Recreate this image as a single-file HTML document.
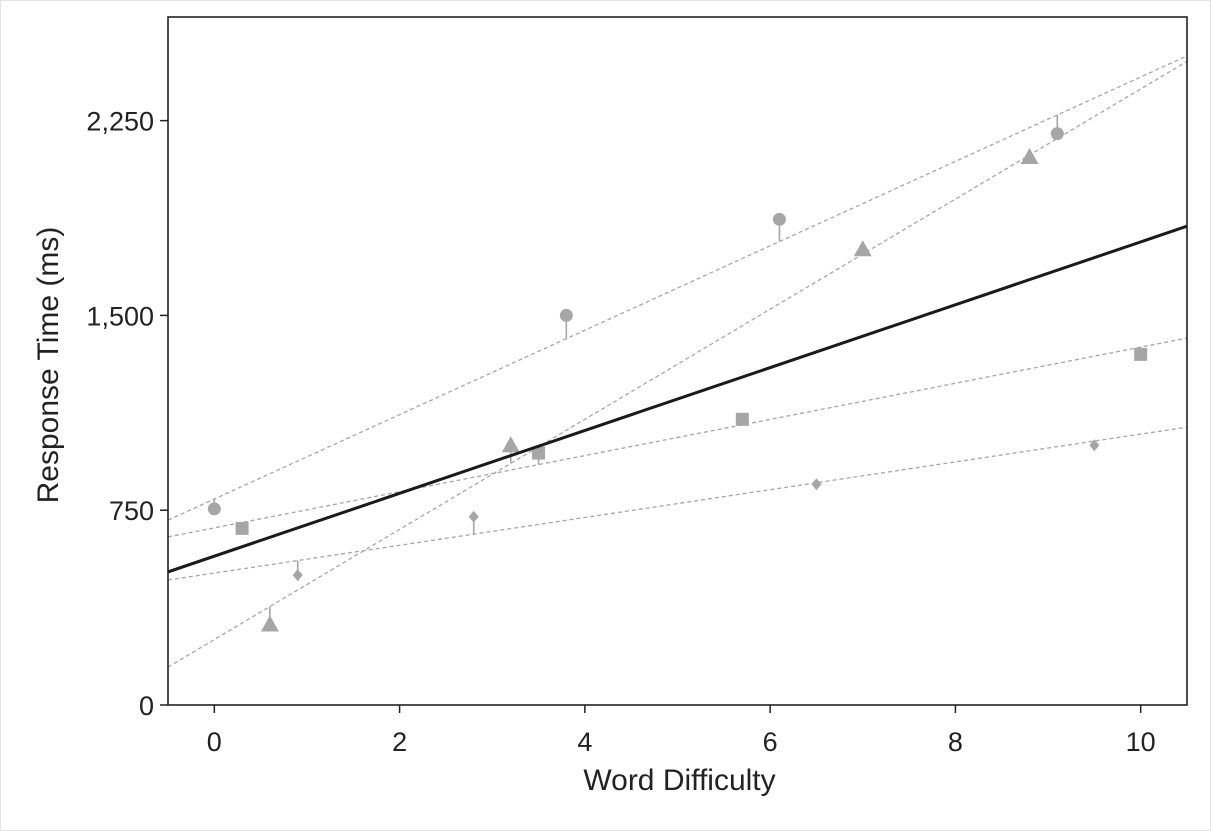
<!DOCTYPE html>
<html><head><meta charset="utf-8"><style>
html,body{margin:0;padding:0;background:#fff}
svg{display:block}
text{font-family:"Liberation Sans",sans-serif;fill:#222}
</style></head><body>
<svg id="chart" width="1211" height="831" viewBox="0 0 1211 831">
<rect x="0.5" y="0.5" width="1210" height="830" fill="#fff" stroke="#e4e4e4"/>
<g id="plot"></g>
</svg>
<script>
const xTicks=[0,2,4,6,8,10];
const yTicks=[0,750,1500,2250];
const yTickLabels=["0","750","1,500","2,250"];
const circleX=[0,3.8,6.1,9.1];
const circleY=[755,1500,1870,2200];
const circleFit=[793,162.5];
const triX=[0.6,3.2,7,8.8];
const triY=[310,1000,1755,2110];
const triFit=[252,212];
const sqX=[0.3,3.5,5.7,10];
const sqY=[680,970,1100,1350];
const sqFit=[682,69.6];
const diaX=[0.9,2.8,6.5,9.5];
const diaY=[500,725,850,1000];
const diaFit=[508,53.5];
const overallFit=[573,121];

const L=168,R=1187,T=17,B=705;
const xMin=-0.5,xMax=10.5,yMin=0,yMax=2649;
const sx=v=>L+(v-xMin)/(xMax-xMin)*(R-L);
const sy=v=>B-(v-yMin)/(yMax-yMin)*(B-T);
const NS="http://www.w3.org/2000/svg";
const g=document.getElementById('plot');
function mk(t,a,p){const e=document.createElementNS(NS,t);for(const k in a)e.setAttribute(k,a[k]);(p||g).appendChild(e);return e;}

const defs=mk('defs',{});const cp=mk('clipPath',{id:'clip'},defs);mk('rect',{x:L,y:T,width:R-L,height:B-T},cp);
const inner=mk('g',{'clip-path':'url(#clip)'});



const grey='#a6a6a6';
function fitLine(fit,name,dash,color,w){
  const e=mk('line',{x1:sx(xMin),y1:sy(fit[0]+fit[1]*xMin),x2:sx(xMax),y2:sy(fit[0]+fit[1]*xMax),stroke:color,'stroke-width':w,'stroke-dasharray':dash},inner);
  
  
}
function series(xs,ys,fit,shape,name){
  fitLine(fit,name+'-fit-line','4 3',grey,1.3);
  xs.forEach((x,i)=>{
    const px=sx(x),py=sy(ys[i]),fy=sy(fit[0]+fit[1]*x);
    const s=mk('line',{x1:px,y1:py,x2:px,y2:fy,stroke:grey,'stroke-width':1.6},inner);
    
    
    let m;
    if(shape==='circle') m=mk('circle',{cx:px,cy:py,r:6.5,fill:grey},inner);
    else if(shape==='tri') m=mk('polygon',{points:`${px},${py-9} ${px+9},${py+7} ${px-9},${py+7}`,fill:grey},inner);
    else if(shape==='sq') m=mk('rect',{x:px-6.5,y:py-6.5,width:13,height:13,fill:grey},inner);
    else m=mk('polygon',{points:`${px},${py-6} ${px+5},${py} ${px},${py+6} ${px-5},${py}`,fill:grey},inner);
    
    
  });
}
series(circleX,circleY,circleFit,'circle','circle-series');
series(triX,triY,triFit,'tri','triangle-series');
series(sqX,sqY,sqFit,'sq','square-series');
series(diaX,diaY,diaFit,'dia','diamond-series');
fitLine(overallFit,'overall-fit-line','none','#1a1a1a',3);

const fr=mk('rect',{x:L,y:T,width:R-L,height:B-T,fill:'none',stroke:'#222','stroke-width':1.6});



xTicks.forEach(v=>{
  const x=sx(v);
  const t=mk('line',{x1:x,y1:B,x2:x,y2:B+8,stroke:'#222','stroke-width':1.5});
  
  
  const l=mk('text',{x:x,y:B+46,'text-anchor':'middle','font-size':27});
  l.textContent=v;
  
  
});
yTicks.forEach((v,i)=>{
  const y=sy(v);
  const t=mk('line',{x1:L-8,y1:y,x2:L,y2:y,stroke:'#222','stroke-width':1.5});
  
  
  const l=mk('text',{x:L-14,y:y+10,'text-anchor':'end','font-size':27});
  l.textContent=yTickLabels[i];
  
  
});
const xt=mk('text',{x:(L+R)/2+2,y:790,'text-anchor':'middle','font-size':30});
xt.textContent='Word Difficulty';


const yt=mk('text',{x:0,y:0,'text-anchor':'middle','font-size':30,transform:`translate(58,${(T+B)/2+4}) rotate(-90)`});
yt.textContent='Response Time (ms)';


</script>
</body></html>
